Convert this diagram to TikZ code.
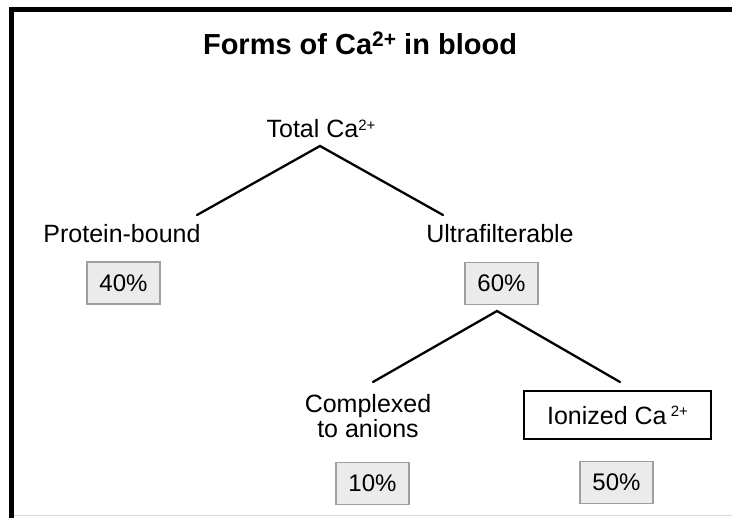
\documentclass[tikz,border=0pt]{standalone}
\usepackage{fontspec}
\setmainfont{Liberation Sans}
\begin{document}
\begin{tikzpicture}[x=1pt,y=-1pt,
  lbl/.style={font=\fontsize{25}{25}\selectfont, inner sep=0pt, anchor=base},
  pct/.style={font=\fontsize{24}{26}\selectfont, draw=gray!75, fill=gray!16,
    line width=1.2pt, minimum width=73pt, minimum height=42pt, inner sep=0pt},
  branch/.style={line width=2.3pt, line cap=round}]
  \useasboundingbox (0,0) rectangle (732,518);
  \fill[white] (0,0) rectangle (732,518);
  % frame
  \draw[line width=5pt] (732,10) -- (11,10) -- (11,518);
  \draw[gray!30, line width=1pt] (14,516) -- (732,516);
  % title
  \node[font=\fontsize{29}{30}\selectfont\bfseries, inner sep=0pt, anchor=base]
    (title) at (360,55) {Forms of Ca\raisebox{0.55ex}{\fontsize{21}{21}\selectfont 2+} in blood};
  % labels
  \node[lbl] (total) at (321,138) {Total Ca\raisebox{0.6ex}{\fontsize{15}{15}\selectfont 2+}};
  \node[lbl] (protein) at (122,243) {Protein-bound};
  \node[lbl] (ultra) at (500,243) {Ultrafilterable};
  \node[lbl, align=center] (complex) at (368,438) {Complexed\\to anions};
  \node[pct] (p40) at (123.5,283) {40\%};
  \node[pct] (p60) at (501.5,283.5) {60\%};
  \node[pct] (p10) at (372.5,483.5) {10\%};
  \node[pct] (p50) at (616.5,482.5) {50\%};
  \node[draw=black, line width=2.5pt, minimum width=187pt, minimum height=48pt,
    inner sep=0pt, font=\fontsize{25}{26}\selectfont]
    (ionized) at (617.5,415) {Ionized Ca\,\raisebox{0.6ex}{\fontsize{15}{15}\selectfont 2+}};
  % branch points
  \coordinate (totalfoot) at (320,146);
  \coordinate (proteintop) at (197,215);
  \coordinate (ultratop) at (443,215);
  \coordinate (p60foot) at (497,311);
  \coordinate (complextop) at (373,382);
  \coordinate (ionizedtop) at (620,382);
  \draw[branch] (proteintop) -- (totalfoot) -- (ultratop);
  \draw[branch] (complextop) -- (p60foot) -- (ionizedtop);
\end{tikzpicture}
\end{document}
